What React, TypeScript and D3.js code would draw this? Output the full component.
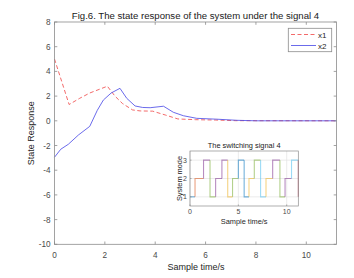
import React from 'react';
import * as d3 from 'd3';

// state trajectories
const x1Time = [0, 0.58, 1.0, 1.4, 2.1, 2.4, 2.7, 3.1, 3.4, 3.9, 4.4, 4.9, 5.6, 6.4, 7.2, 11.2];
const x1Value = [5.0, 1.32, 1.82, 2.25, 2.8, 2.0, 1.4, 0.88, 0.8, 0.78, 0.47, 0.15, 0.09, 0.06, 0.01, 0];

const x2Time = [0, 0.25, 0.55, 0.95, 1.4, 1.7, 1.94, 2.25, 2.6, 2.87, 3.2, 3.5, 3.8, 4.33, 4.72, 5.12, 5.65, 6.45, 7.25, 8.0, 11.2];
const x2Value = [-2.95, -2.3, -1.9, -1.15, -0.45, 0.85, 1.68, 2.25, 2.63, 1.82, 1.2, 1.08, 1.06, 1.18, 0.69, 0.41, 0.2, 0.13, 0.04, 0, 0];

// switching signal: start time of each interval and active mode
const switchTime = [0, 0.52, 1.4, 2.07, 2.65, 3.3, 3.9, 4.4, 5.0, 5.6, 6.1, 6.65, 7.3, 7.86, 8.55, 9.3, 9.83, 10.5, 11.2];
const switchMode = [1, 2, 3, 1, 2, 3, 1, 2, 3, 1, 2, 3, 1, 2, 3, 1, 2, 3, 1];
const switchColor = ['#0072BD', '#D95319', '#7E2F8E', '#77AC30', '#7E2F8E', '#7E2F8E', '#EDB120', '#77AC30', '#0072BD', '#0072BD',
  '#EDB120', '#77AC30', '#4DBEEE', '#EDB120', '#7E2F8E', '#77AC30', '#7E2F8E', '#4DBEEE', '#A2142F'];

const xTicks = [0, 2, 4, 6, 8, 10];
const yTicks = [-10, -8, -6, -4, -2, 0, 2, 4, 6, 8];
const insetXTicks = [0, 5, 10];
const insetYTicks = [1, 2, 3];

const W = 354;
const H = 278;
const font = '"Liberation Sans", Arial, Helvetica, sans-serif';
const axisGray = '#8c8c8c';
const labelGray = '#4a4a4a';

export default function App() {
  const x = d3.scaleLinear().domain([0, 11.2]).range([54.5, 336.5]);
  const y = d3.scaleLinear().domain([-10, 8]).range([244.3, 22]);

  const ix = d3.scaleLinear().domain([0, 11.2]).range([190, 298.3]);
  const iy = d3.scaleLinear().domain([0.5, 3.5]).range([206, 151]);

  const line = d3.line<[number, number]>().x(d => x(d[0])).y(d => y(d[1]));
  const x1Path = line(x1Time.map((t, i) => [t, x1Value[i]]))!;
  const x2Path = line(x2Time.map((t, i) => [t, x2Value[i]]))!;

  const [xl, xr] = x.range();
  const [yb, yt] = y.range();
  const [ixl, ixr] = ix.range();
  const [iyb, iyt] = iy.range();

  // each interval: vertical jump at its start, then horizontal run to the next switch
  const segments = switchTime.map((t, i) => {
    const prev = i > 0 ? switchMode[i - 1] : switchMode[i];
    const end = i < switchTime.length - 1 ? switchTime[i + 1] : t;
    const pts: [number, number][] = [[t, prev], [t, switchMode[i]], [end, switchMode[i]]];
    const d = d3.line<[number, number]>().x(p => ix(p[0])).y(p => iy(p[1]))(pts)!;
    return <path key={i} d={d} fill="none" stroke={switchColor[i]} strokeOpacity={0.55} strokeWidth={1.1} />;
  });

  return (
    <svg width={W} height={H} style={{ position: 'absolute', left: 0, top: 0, background: '#fff' }} fontFamily={font}>
      <rect width={W} height={H} fill="#fff" />
      <text x={195.5} y={18.5} fontSize={9.6} textAnchor="middle" fill="#1a1a1a">
        Fig.6. The state response of the system under the signal 4
      </text>

      {/* main curves */}
      <path d={x1Path} fill="none" stroke="#f04545" strokeOpacity={0.8} strokeWidth={1} strokeDasharray="4,2.5" />
      <path d={x2Path} fill="none" stroke="#4646e6" strokeOpacity={0.8} strokeWidth={1} />

      {/* main box and ticks */}
      <rect x={xl} y={yt} width={xr - xl} height={yb - yt} fill="none" stroke={axisGray} strokeWidth={0.8} />
      {xTicks.map(t => (
        <g key={'xt' + t}>
          <line x1={x(t)} x2={x(t)} y1={yb} y2={yb - 2.8} stroke={axisGray} strokeWidth={0.8} />
          <line x1={x(t)} x2={x(t)} y1={yt} y2={yt + 2.8} stroke={axisGray} strokeWidth={0.8} />
          <text x={x(t)} y={257.5} fontSize={8.2} textAnchor="middle" fill={labelGray}>{t}</text>
        </g>
      ))}
      {yTicks.map(v => (
        <g key={'yt' + v}>
          <line x1={xl} x2={xl + 2.8} y1={y(v)} y2={y(v)} stroke={axisGray} strokeWidth={0.8} />
          <line x1={xr} x2={xr - 2.8} y1={y(v)} y2={y(v)} stroke={axisGray} strokeWidth={0.8} />
          <text x={xl - 4} y={y(v) + 3} fontSize={8.2} textAnchor="end" fill={labelGray}>{v}</text>
        </g>
      ))}
      <text x={196} y={269.5} fontSize={9} textAnchor="middle" fill="#262626">Sample time/s</text>
      <text transform={`translate(33.5,${(yb + yt) / 2}) rotate(-90)`} fontSize={9} textAnchor="middle" fill="#262626">
        State Response
      </text>

      {/* legend */}
      <rect x={288.3} y={28.3} width={43.4} height={23.4} fill="#fff" stroke={axisGray} strokeWidth={0.8} />
      <line x1={291} x2={316} y1={34.5} y2={34.5} stroke="#f04545" strokeOpacity={0.8} strokeWidth={1} strokeDasharray="4,2.5" />
      <text x={318} y={37.5} fontSize={8} fill="#262626">x1</text>
      <line x1={291} x2={316} y1={45.5} y2={45.5} stroke="#4646e6" strokeOpacity={0.8} strokeWidth={1} />
      <text x={318} y={48.5} fontSize={8} fill="#262626">x2</text>

      {/* inset: switching signal */}
      <rect x={ixl} y={iyt} width={ixr - ixl} height={iyb - iyt} fill="#fff" />
      {insetXTicks.map(t => (
        <line key={'igx' + t} x1={ix(t)} x2={ix(t)} y1={iyb} y2={iyt} stroke="#e3e3e3" strokeWidth={0.7} />
      ))}
      {insetYTicks.map(v => (
        <line key={'igy' + v} x1={ixl} x2={ixr} y1={iy(v)} y2={iy(v)} stroke="#e3e3e3" strokeWidth={0.7} />
      ))}
      {segments}
      <rect x={ixl} y={iyt} width={ixr - ixl} height={iyb - iyt} fill="none" stroke={axisGray} strokeWidth={0.7} />
      {insetXTicks.map(t => (
        <g key={'ixt' + t}>
          <line x1={ix(t)} x2={ix(t)} y1={iyb} y2={iyb - 1.5} stroke={axisGray} strokeWidth={0.7} />
          <text x={ix(t)} y={214} fontSize={7} textAnchor="middle" fill={labelGray}>{t}</text>
        </g>
      ))}
      {insetYTicks.map(v => (
        <g key={'iyt' + v}>
          <line x1={ixl} x2={ixl + 1.5} y1={iy(v)} y2={iy(v)} stroke={axisGray} strokeWidth={0.7} />
          <text x={ixl - 3} y={iy(v) + 2.5} fontSize={7} textAnchor="end" fill={labelGray}>{v}</text>
        </g>
      ))}
      <text x={(ixl + ixr) / 2} y={148} fontSize={7.4} textAnchor="middle" fill="#1a1a1a">The switching signal 4</text>
      <text x={(ixl + ixr) / 2} y={224} fontSize={7.4} textAnchor="middle" fill="#262626">Sample time/s</text>
      <text transform={`translate(182,${(iyb + iyt) / 2}) rotate(-90)`} fontSize={7.4} textAnchor="middle" fill="#262626">
        System mode
      </text>
    </svg>
  );
}
